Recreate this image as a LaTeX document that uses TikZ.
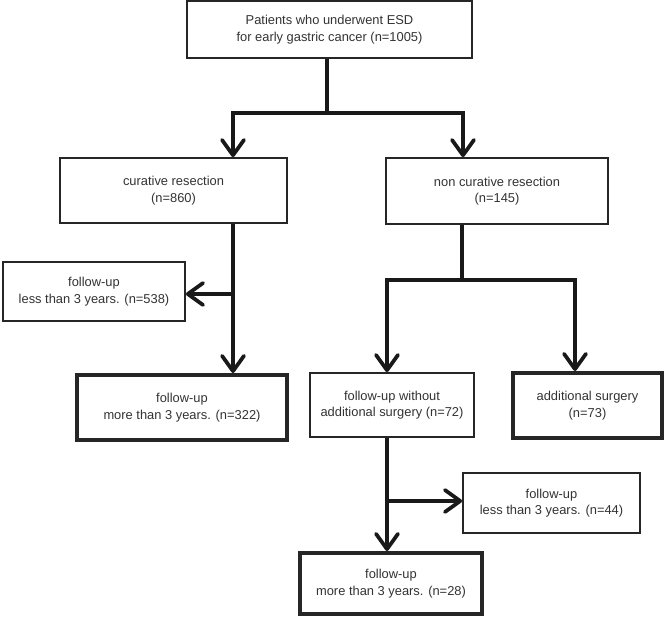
\documentclass[tikz,border=0pt]{standalone}
\usepackage{fontspec}
\setmainfont{Liberation Sans}
\usetikzlibrary{arrows.meta, positioning}

\begin{document}
\begin{tikzpicture}[
                flowbox/.style = {
                    rectangle,
                    draw            = black!85,
                    line width      = 1.5pt,
                    fill            = white,
                    align           = center,
                    text            = black!80,
                    inner sep       = 0pt,
                    font            = \fontsize{11}{14}\selectfont
                },
                endbox/.style = {
                    flowbox,
                    line width      = 3.4pt
                },
                bigarrow/.style = {
                    line width = 2.6pt,
                    draw       = black!90,
                    -{Straight Barb[length=4.6mm, width=6.6mm, line width=3.2pt, round]}
                },
                bigline/.style = {
                    line width = 2.6pt,
                    draw       = black!90
                }
            ]

                \useasboundingbox (0, 0) rectangle (19.98, -18.51);

                % boxes
                \node[flowbox, minimum width=8.55cm, minimum height=1.71cm] (patients) at (9.885, -0.885)
                    {Patients who underwent ESD\\for early gastric cancer (n=1005)};
                \node[flowbox, minimum width=6.81cm, minimum height=1.95cm] (curative) at (5.205, -5.715)
                    {curative resection\\(n=860)};
                \node[flowbox, minimum width=6.66cm, minimum height=1.98cm] (noncurative) at (14.91, -5.73)
                    {non curative resection\\(n=145)};
                \node[flowbox, minimum width=5.46cm, minimum height=1.77cm] (lessA) at (2.82, -8.745)
                    {follow-up\\less than 3 years. (n=538)};
                \node[endbox, minimum width=6.3cm, minimum height=1.95cm] (moreA) at (5.46, -12.225)
                    {follow-up\\more than 3 years. (n=322)};
                \node[flowbox, minimum width=4.92cm, minimum height=1.92cm] (nosurgery) at (11.76, -12.15)
                    {follow-up without\\additional surgery (n=72)};
                \node[endbox, minimum width=4.47cm, minimum height=1.95cm] (surgery) at (17.625, -12.165)
                    {additional surgery\\(n=73)};
                \node[flowbox, minimum width=5.31cm, minimum height=1.8cm] (lessB) at (16.545, -15.09)
                    {follow-up\\less than 3 years. (n=44)};
                \node[endbox, minimum width=5.46cm, minimum height=1.83cm] (moreB) at (11.73, -17.505)
                    {follow-up\\more than 3 years. (n=28)};

                % junction points
                \coordinate (splitA) at (9.81, -3.39);
                \coordinate (splitAL) at (6.99, -3.39);
                \coordinate (splitAR) at (13.89, -3.39);
                \coordinate (branchA) at (6.99, -8.82);
                \coordinate (splitB) at (13.86, -8.4);
                \coordinate (splitBL) at (11.61, -8.4);
                \coordinate (splitBR) at (17.25, -8.4);
                \coordinate (branchB) at (11.61, -15.03);

                % connectors
                \draw[bigline] (patients.south -| splitA) -- (splitA);
                \draw[bigline, line cap=rect] (splitAL) -- (splitAR);
                \draw[bigarrow] (splitAL) -- (curative.north -| splitAL);
                \draw[bigarrow] (splitAR) -- (noncurative.north -| splitAR);

                \draw[bigarrow] (curative.south -| splitAL) -- (moreA.north -| splitAL);
                \draw[bigarrow] (branchA) -- (branchA -| lessA.east);

                \draw[bigline] (noncurative.south -| splitB) -- (splitB);
                \draw[bigline, line cap=rect] (splitBL) -- (splitBR);
                \draw[bigarrow] (splitBL) -- (nosurgery.north -| splitBL);
                \draw[bigarrow] (splitBR) -- (surgery.north -| splitBR);

                \draw[bigarrow] (nosurgery.south -| splitBL) -- (moreB.north -| splitBL);
                \draw[bigarrow] (branchB) -- (branchB -| lessB.west);
            \end{tikzpicture}
\end{document}
